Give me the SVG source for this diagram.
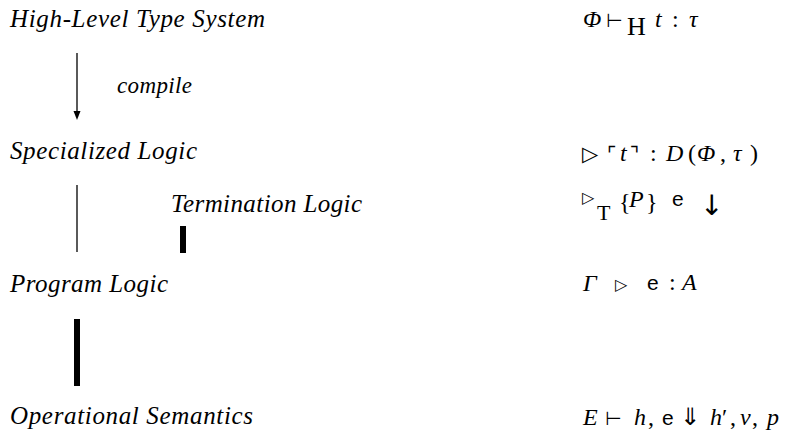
<svg xmlns="http://www.w3.org/2000/svg" width="791" height="433" viewBox="0 0 791 433">
<style>
.bar{fill:#000}
.ln{stroke:#000;stroke-width:1.3}
</style>
<rect width="791" height="433" fill="#fff"/>
<g id="connectors">
<line class="ln" x1="77" y1="53" x2="77" y2="113"/>
<polygon class="bar" points="73.5,111 80.5,111 77,120"/>
<line class="ln" x1="77" y1="185" x2="77" y2="252"/>
<rect class="bar" x="180" y="226" width="6" height="27"/>
<rect class="bar" x="74" y="319" width="6" height="67"/>
</g>
<g id="n-high">
<text font-family="Liberation Serif" font-style="italic" font-size="25" x="10" y="27" textLength="255" lengthAdjust="spacing">High-Level Type System</text>
<text font-family="Liberation Serif" font-size="24" y="27"><tspan font-style="italic" x="583">Φ</tspan><tspan font-family="DejaVu Sans" x="606" font-size="19">⊢</tspan><tspan x="627" y="35" font-size="26">H</tspan><tspan font-style="italic" x="655" y="27">t</tspan><tspan x="672">:</tspan><tspan font-style="italic" x="689">τ</tspan></text>
</g>
<g id="compile-label">
<text font-family="Liberation Serif" font-style="italic" x="117" y="93" font-size="23" textLength="75" lengthAdjust="spacing">compile</text>
</g>
<g id="n-spec">
<text font-family="Liberation Serif" font-style="italic" font-size="25" x="10" y="159" textLength="187" lengthAdjust="spacing">Specialized Logic</text>
<text font-family="Liberation Serif" font-size="24" y="161"><tspan font-family="DejaVu Sans" x="582" font-size="21">▷</tspan><tspan font-family="DejaVu Sans" x="607" font-size="20">⌜</tspan><tspan font-style="italic" x="620">t</tspan><tspan font-family="DejaVu Sans" x="630" font-size="20">⌝</tspan><tspan x="650">:</tspan><tspan font-style="italic" x="666">D</tspan><tspan x="688">(</tspan><tspan font-style="italic" x="697">Φ</tspan><tspan x="720">,</tspan><tspan font-style="italic" x="733">τ</tspan><tspan x="750">)</tspan></text>
</g>
<g id="n-term">
<text font-family="Liberation Serif" font-style="italic" font-size="25" x="171" y="212" textLength="191" lengthAdjust="spacing">Termination Logic</text>
<text font-family="Liberation Serif" font-size="24" y="207"><tspan font-family="DejaVu Sans" x="582" y="203" font-size="16">▷</tspan><tspan x="597" y="220" font-size="22">T</tspan><tspan x="619" y="210">{</tspan><tspan font-style="italic" x="629" y="207">P</tspan><tspan x="646" y="210">}</tspan><tspan font-family="Liberation Sans" x="672" y="206" font-size="21">e</tspan><tspan font-family="DejaVu Sans" x="700" y="215" font-size="28">↓</tspan></text>
</g>
<g id="n-prog">
<text font-family="Liberation Serif" font-style="italic" font-size="25" x="10" y="292" textLength="158" lengthAdjust="spacing">Program Logic</text>
<text font-family="Liberation Serif" font-size="24" y="291"><tspan font-style="italic" x="583">Γ</tspan><tspan font-family="DejaVu Sans" x="615" y="290" font-size="16">▷</tspan><tspan font-family="Liberation Sans" x="647" font-size="21">e</tspan><tspan x="669">:</tspan><tspan font-style="italic" x="682">A</tspan></text>
</g>
<g id="n-op">
<text font-family="Liberation Serif" font-style="italic" font-size="25" x="10" y="424" textLength="243" lengthAdjust="spacing">Operational Semantics</text>
<text font-family="Liberation Serif" font-size="24" y="425"><tspan font-style="italic" x="583">E</tspan><tspan font-family="DejaVu Sans" x="605" font-size="19">⊢</tspan><tspan font-style="italic" x="634">h</tspan><tspan x="648">,</tspan><tspan font-family="Liberation Sans" x="662" font-size="21">e</tspan><tspan font-family="DejaVu Sans" x="680" font-size="24">⇓</tspan><tspan font-style="italic" x="710">h</tspan><tspan x="722">′</tspan><tspan x="730">,</tspan><tspan font-style="italic" x="740">v</tspan><tspan x="752">,</tspan><tspan font-style="italic" x="767">p</tspan></text>
</g>
</svg>
